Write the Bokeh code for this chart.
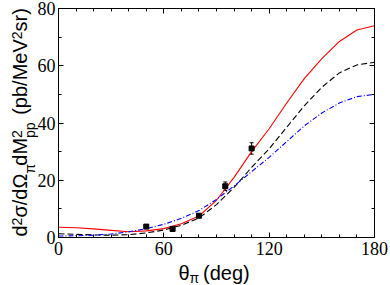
import math
from bokeh.plotting import figure
from bokeh.layouts import column, row
from bokeh.models import (LinearAxis, FixedTicker, Range1d, Whisker,
                          ColumnDataSource, TeeHead)
from bokeh.core.properties import value
from bokeh.embed import file_html
from bokeh.resources import INLINE

# ---- data ----
theta = [0, 10, 20, 30, 40, 50, 60, 70, 80, 90, 100, 110, 120, 130, 140, 150, 160, 170, 180]
red_solid = [3.6, 3.4, 3.0, 2.5, 2.0, 2.3, 3.1, 4.8, 7.5, 13.0, 21.0, 30.0, 38.0, 47.0, 55.5, 62.5, 68.5, 72.5, 74.0]
black_dash = [1.3, 1.1, 0.9, 0.8, 1.0, 1.6, 2.6, 4.3, 6.8, 11.5, 17.5, 24.5, 31.0, 38.5, 46.0, 52.5, 57.5, 60.3, 61.2]
blue_dashdot = [0.5, 0.6, 0.8, 1.2, 2.0, 3.1, 4.6, 6.7, 9.4, 13.3, 18.0, 23.0, 28.0, 33.5, 39.0, 43.5, 47.0, 49.2, 50.0]

exp_theta = [50, 65, 80, 95, 110]
exp_val = [3.8, 3.0, 7.6, 17.9, 31.1]
exp_err = [0.5, 0.5, 0.6, 1.5, 2.0]

x_major = [0, 60, 120, 180]
x_minor = list(range(0, 181, 10))
y_major = [0, 20, 40, 60, 80]
y_minor = list(range(0, 81, 10))

# ---- layout ----
TW, TH = 390, 285
FL, FR, FT, FB = 58, 374, 8, 237   # frame in page px

p = figure(width=TW, height=TH, x_range=Range1d(0, 180), y_range=Range1d(0, 80),
           output_backend="svg", toolbar_location=None, title=None,
           min_border_left=FL, min_border_right=TW - FR,
           min_border_top=FT, min_border_bottom=TH - FB)
p.grid.visible = False
p.outline_line_color = "black"
p.outline_line_width = 1
p.background_fill_color = "white"
p.border_fill_color = "white"


def style_axis(ax, labels=True, standoff=4):
    ax.axis_line_color = "black"
    ax.major_tick_in = 5
    ax.major_tick_out = 0
    ax.minor_tick_in = 3
    ax.minor_tick_out = 0
    ax.major_tick_line_color = "black"
    ax.minor_tick_line_color = "black"
    ax.major_label_text_font = "Liberation Serif"
    ax.major_label_text_font_size = "18px" if labels else "0px"
    ax.major_label_text_color = "black"
    ax.major_label_standoff = standoff if labels else 0


p.xaxis.ticker = FixedTicker(ticks=x_major, minor_ticks=x_minor)
p.yaxis.ticker = FixedTicker(ticks=y_major, minor_ticks=y_minor)
style_axis(p.xaxis[0], True, 4)
style_axis(p.yaxis[0], True, 3)

top_ax = LinearAxis(ticker=FixedTicker(ticks=x_major, minor_ticks=x_minor))
style_axis(top_ax, False)
top_ax.major_label_overrides = {t: "" for t in x_major}
p.add_layout(top_ax, "above")
right_ax = LinearAxis(ticker=FixedTicker(ticks=y_major, minor_ticks=y_minor))
style_axis(right_ax, False)
right_ax.major_label_overrides = {t: "" for t in y_major}
p.add_layout(right_ax, "right")

# ---- curves ----
p.line(theta, red_solid, line_color="#ff0000", line_width=1.1)
p.line(theta, black_dash, line_color="black", line_width=1.1, line_dash="6 3")
p.line(theta, blue_dashdot, line_color="#0000ff", line_width=1.1, line_dash="5 2 1 2")

src = ColumnDataSource(dict(x=exp_theta, y=exp_val,
                            lo=[v - e for v, e in zip(exp_val, exp_err)],
                            hi=[v + e for v, e in zip(exp_val, exp_err)]))
p.add_layout(Whisker(source=src, base="x", lower="lo", upper="hi",
                     line_color="black", line_width=1,
                     lower_head=TeeHead(size=4, line_color="black"),
                     upper_head=TeeHead(size=4, line_color="black")))
p.scatter("x", "y", source=src, marker="square", size=5, color="black")

# ---- axis titles with sub/superscripts ----
W = {"d": 0.556, "2": 0.556, "σ": 0.6, "/": 0.278, "Ω": 0.768, "π": 0.56, "M": 0.833,
     " ": 0.278, "(": 0.333, "p": 0.556, "b": 0.556, "e": 0.556, "V": 0.667, "s": 0.5,
     "r": 0.333, ")": 0.333, "θ": 0.556, "g": 0.556}
MS, SS = 20, 14
FONT = "Liberation Sans"
ASC = 0.9   # rotated text is anchored at its top edge: shift by the ascent


def tw(s, size):
    return sum(W.get(c, 0.556) for c in s) * size


def overlay(x_lo, x_hi, y_lo, y_hi, borders):
    l, r, t, b = borders
    f = figure(width=TW, height=TH, x_range=Range1d(x_lo, x_hi), y_range=Range1d(y_lo, y_hi),
               output_backend="svg", toolbar_location=None, title=None,
               x_axis_type=None, y_axis_type=None,
               min_border_left=l, min_border_right=r, min_border_top=t, min_border_bottom=b)
    f.outline_line_color = None
    f.grid.visible = False
    f.background_fill_alpha = 0
    f.border_fill_alpha = 0
    return f


try:
    p.frame_align = False
    can_unalign = True
except Exception:
    can_unalign = False

if can_unalign:
    ovy = overlay(0, TW, 0, TH, (0, 0, 0, 0))
    ovy.frame_align = False
    ovx = ovy
else:
    ovy = overlay(0, TW, TH - FB, TH - FT, (0, 0, FT, TH - FB))
    ovx = overlay(FL, FR, 0, TH, (FL, TW - FR, 0, 0))

# y title, rotated, reading bottom -> top (page px, y measured from bottom)
B = 37
pieces = [("d", "m"), ("2", "sup"), ("σ/dΩ", "m"), ("π", "sub"), ("dM", "m"),
          ("2|pp", "both"), (None, "gap"), ("(pb/MeV", "m"), ("2", "sup"), ("sr)", "m")]
pos = TH - 236.0
items = {"m": [], "s": []}
for txt, kind in pieces:
    if kind == "m":
        items["m"].append((B - ASC * MS, pos, txt))
        pos += tw(txt, MS)
    elif kind == "gap":
        pos += tw(" ", MS) + 2
    elif kind == "sup":
        items["s"].append((B - 8 - ASC * SS, pos, txt))
        pos += tw(txt, SS)
    elif kind == "sub":
        items["s"].append((B + 5 - ASC * SS, pos, txt))
        pos += tw(txt, SS)
    else:
        sup, sub = txt.split("|")
        items["s"].append((B - 8 - ASC * SS, pos, sup))
        items["s"].append((B + 5 - ASC * SS, pos, sub))
        pos += max(tw(sup, SS), tw(sub, SS))
for key, size in (("m", MS), ("s", SS)):
    ovy.text(x=[a for a, _, _ in items[key]], y=[b for _, b, _ in items[key]],
             text=[c for _, _, c in items[key]], angle=math.pi / 2,
             text_font=value(FONT), text_font_size=value(f"{size}px"), text_color="black",
             text_baseline="alphabetic", text_align="left")

# x title
x0 = 178.0
x_pi = x0 + tw("θ", MS)
x_deg = x_pi + tw("π", SS) + tw(" ", MS)
ovx.text(x=[x0, x_deg], y=[TH - 272, TH - 272], text=["θ", "(deg)"],
         text_font=value(FONT), text_font_size=value(f"{MS}px"), text_color="black",
         text_baseline="alphabetic", text_align="left")
ovx.text(x=[x_pi], y=[TH - 277], text=["π"],
         text_font=value(FONT), text_font_size=value(f"{SS}px"), text_color="black",
         text_baseline="alphabetic", text_align="left")

if can_unalign:
    ovy.margin = (-TH, 0, 0, 0)
    layout = column(p, ovy, spacing=0)
else:
    ovy.margin = (0, 0, 0, -TW)
    ovx.margin = (-TH, 0, 0, 0)
    layout = column(row(p, ovy, spacing=0), ovx, spacing=0)

open("out.html", "w").write(file_html(layout, INLINE))
